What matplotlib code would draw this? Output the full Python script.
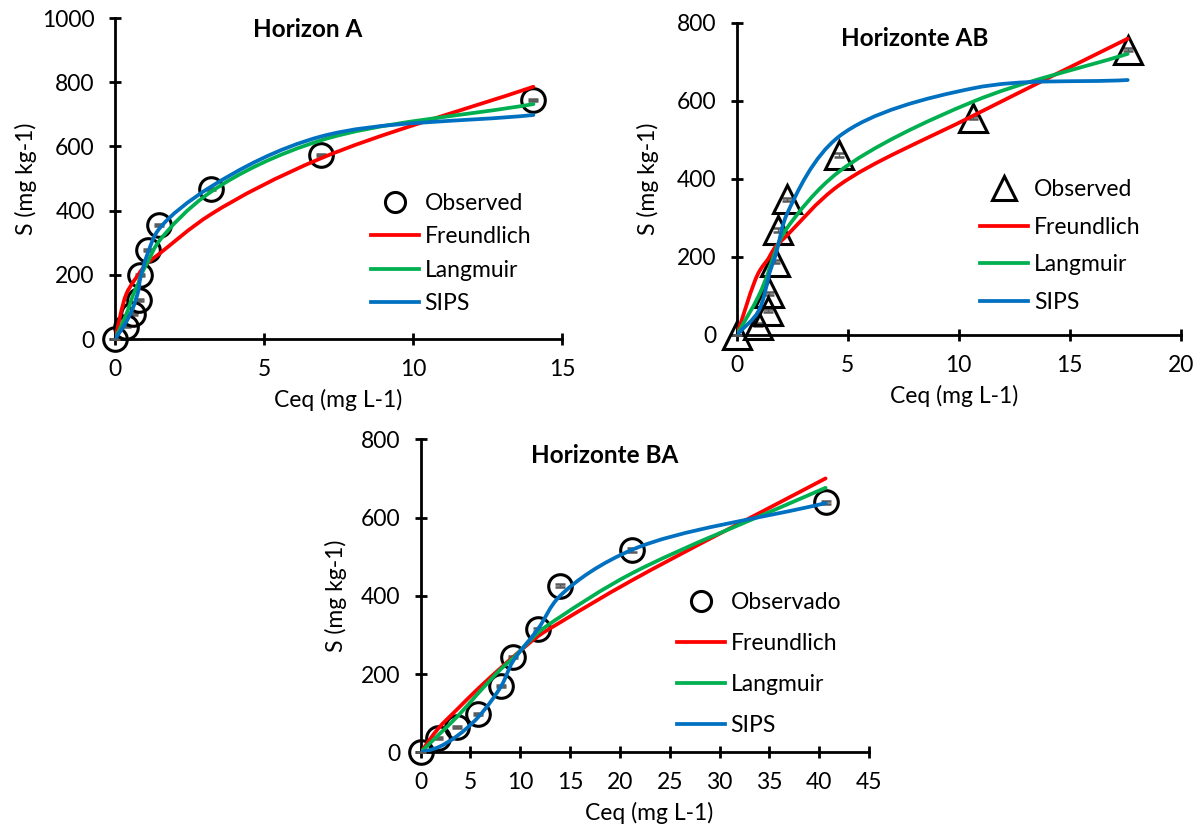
import numpy as np
import matplotlib
matplotlib.use('Agg')
import matplotlib.pyplot as plt
from matplotlib.path import Path
from matplotlib.patches import PathPatch
from matplotlib.lines import Line2D

plt.rcParams['font.family'] = ['Lato', 'DejaVu Sans']

# ---- Horizon A ----
ceq_a = [0, 0.37, 0.62, 0.79, 0.85, 1.11, 1.48, 3.21, 6.91, 14.04]
obs_a = [0, 39, 79, 121, 199, 277, 355, 466, 572, 744]
err_a = [0, 3, 3, 3, 3, 3, 3, 3, 3, 3]
freund_a = [0, 138, 179, 201, 210, 238, 265, 388, 563, 786]
lang_a = [0, 75, 140, 175, 194, 242, 305, 458, 619, 732]
sips_a = [0, 52, 101, 153, 190, 270, 343, 474, 631, 698]

# ---- Horizonte AB ----
ceq_ab = [0, 0.97, 1.42, 1.47, 1.73, 1.85, 2.28, 4.60, 10.66, 17.61]
obs_ab = [0, 26, 62, 107, 188, 269, 348, 461, 556, 731]
err_ab = [0, 4, 4, 4, 4, 4, 4, 4, 4, 4]
freund_ab = [0, 158, 195, 200, 225, 232, 256, 383, 562, 759]
lang_ab = [0, 98, 160, 171, 212, 231, 275, 418, 598, 720]
sips_ab = [0, 60, 145, 158, 201, 226, 312, 508, 632, 653]

# ---- Horizonte BA ----
ceq_ba = [0, 1.77, 3.67, 5.78, 8.10, 9.25, 11.80, 14.00, 21.25, 40.65]
obs_ba = [0, 36, 65, 98, 169, 244, 314, 426, 517, 639]
err_ba = [0, 3, 3, 3, 3, 3, 3, 3, 5, 4]
freund_ba = [0, 61, 110, 163, 217, 243, 297, 332, 440, 700]
lang_ba = [0, 44, 91, 151, 214, 240, 306, 346, 458, 676]
sips_ba = [0, 13, 42, 90, 170, 232, 316, 400, 518, 637]

RED, GREEN, BLUE = '#FF0000', '#00B050', '#0070C0'
FS = 16.5


def smooth_path(ax, x, y):
    # linea suavizada (Catmull-Rom centripeta en pixeles -> Bezier)
    p = ax.transData.transform(np.column_stack([x, y]))
    n = len(p)
    pts = np.vstack([2 * p[0] - p[1], p, 2 * p[-1] - p[-2]])
    verts = [p[0]]
    codes = [Path.MOVETO]
    for i in range(1, n):
        p0, p1, p2, p3 = pts[i - 1], pts[i], pts[i + 1], pts[i + 2]
        d1 = max(np.hypot(*(p1 - p0)), 1e-6)
        d2 = max(np.hypot(*(p2 - p1)), 1e-6)
        d3 = max(np.hypot(*(p3 - p2)), 1e-6)
        s1, s2, s3 = np.sqrt(d1), np.sqrt(d2), np.sqrt(d3)
        b1 = (d1 * p2 - d2 * p0 + (2 * d1 + 3 * s1 * s2 + d2) * p1) / (3 * s1 * (s1 + s2))
        b2 = (d3 * p1 - d2 * p3 + (2 * d3 + 3 * s3 * s2 + d2) * p2) / (3 * s3 * (s3 + s2))
        verts += [b1, b2, p2]
        codes += [Path.CURVE4] * 3
    verts = ax.transData.inverted().transform(np.array(verts))
    return Path(verts, codes)


def panel(rect, ceq, obs, err, fr, la, si, marker, ms, obs_label,
          xmax, xstep, ymax, title, title_xy, leg_xy, leg_space):
    ax = fig.add_axes(rect)
    ax.set_xlim(0, xmax)
    ax.set_ylim(0, ymax)
    ax.errorbar(ceq, obs, yerr=err, fmt='none', ecolor='#595959',
                capsize=3.8, capthick=1.8, elinewidth=1.0, zorder=3, clip_on=False)
    ax.plot(ceq, obs, ls='none', marker=marker, ms=ms, mfc='none', mec='black',
            mew=2.2, zorder=3, clip_on=False)
    for vals, c in [(fr, RED), (la, GREEN), (si, BLUE)]:
        ax.add_patch(PathPatch(smooth_path(ax, ceq, vals), fill=False, edgecolor=c,
                               lw=2.7, zorder=4, capstyle='round'))
    ax.set_xticks(np.arange(0, xmax + 0.1, xstep))
    ax.set_yticks(np.arange(0, ymax + 1, 200))
    for s in ['top', 'right']:
        ax.spines[s].set_visible(False)
    for s in ['left', 'bottom']:
        ax.spines[s].set_linewidth(2.0)
    ax.tick_params(direction='inout', length=9, width=2.0, labelsize=FS, pad=10)
    ax.text(title_xy[0], title_xy[1], title, transform=ax.transAxes, ha='center',
            va='baseline', fontsize=17.5, fontweight='bold')
    handles = [Line2D([], [], ls='none', marker=marker, ms=ms * 0.85, mfc='none',
                      mec='black', mew=2.2),
               Line2D([], [], color=RED, lw=2.7),
               Line2D([], [], color=GREEN, lw=2.7),
               Line2D([], [], color=BLUE, lw=2.7)]
    ax.legend(handles, [obs_label, 'Freundlich', 'Langmuir', 'SIPS'],
              loc='upper left', bbox_to_anchor=leg_xy, frameon=False,
              fontsize=FS, handlelength=2.1, handletextpad=0.25,
              labelspacing=leg_space, borderpad=0, borderaxespad=0)
    return ax


fig = plt.figure(figsize=(12.04, 8.32), dpi=100)

axA = panel([0.0955, 0.5925, 0.3713, 0.3858], ceq_a, obs_a, err_a, freund_a, lang_a,
            sips_a, 'o', 17, 'Observed', 15, 5, 1000, 'Horizon A', (0.43, 0.94),
            (0.572, 0.456), 0.55)
axA.text(-0.2, 0.5, 'S (mg kg-1)', transform=axA.transAxes, rotation=90,
         ha='center', va='center', fontsize=FS)
axA.text(0.5, -0.19, 'Ceq (mg L-1)', transform=axA.transAxes,
         ha='center', va='center', fontsize=FS)

axAB = panel([0.6119, 0.5974, 0.3688, 0.3754], ceq_ab, obs_ab, err_ab, freund_ab,
             lang_ab, sips_ab, '^', 20, 'Observed', 20, 5, 800, 'Horizonte AB',
             (0.4, 0.925), (0.548, 0.499), 0.72)
axAB.text(-0.2, 0.5, 'S (mg kg-1)', transform=axAB.transAxes, rotation=90,
          ha='center', va='center', fontsize=FS)
axAB.text(0.49, -0.195, 'Ceq (mg L-1)', transform=axAB.transAxes,
          ha='center', va='center', fontsize=FS)

axBA = panel([0.3494, 0.0958, 0.3723, 0.3762], ceq_ba, obs_ba, err_ba, freund_ba,
             lang_ba, sips_ba, 'o', 17, 'Observado', 45, 5, 800, 'Horizonte BA',
             (0.41, 0.925), (0.571, 0.513), 0.88)
axBA.text(-0.19, 0.5, 'S (mg kg-1)', transform=axBA.transAxes, rotation=90,
          ha='center', va='center', fontsize=FS)
axBA.text(0.51, -0.195, 'Ceq (mg L-1)', transform=axBA.transAxes,
          ha='center', va='center', fontsize=FS)

fig.savefig('out.png', dpi=100)
